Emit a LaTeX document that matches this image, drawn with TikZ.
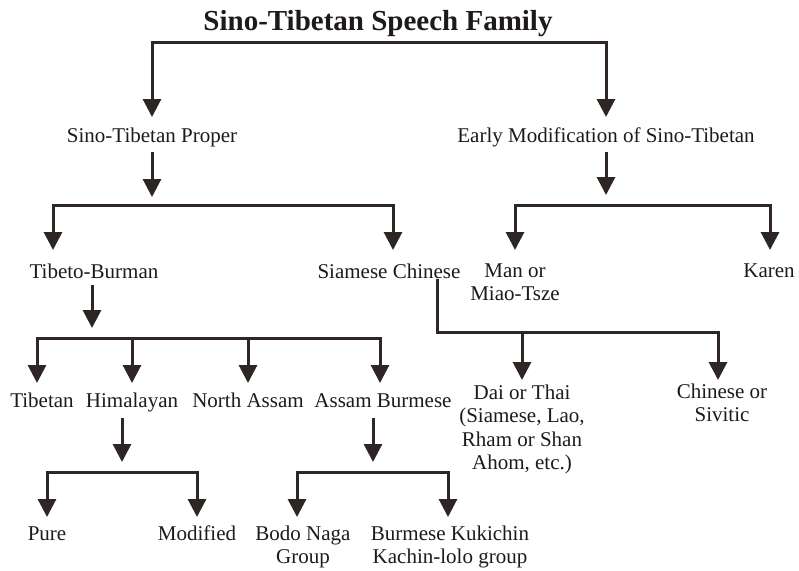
\documentclass[tikz,border=0pt]{standalone}
\usepackage{fontspec}
\setmainfont{Liberation Serif}
\usetikzlibrary{arrows.meta}
\definecolor{ink}{HTML}{2E2624}
\definecolor{txt}{HTML}{1E1A1A}
\begin{document}
\begin{tikzpicture}[x=1pt,y=-1pt,
  lab/.style={anchor=base,inner sep=0pt,text=txt,align=center,font=\fontsize{21}{23.5}\selectfont},
  ttl/.style={anchor=base,inner sep=0pt,text=txt,font=\fontsize{29}{33}\selectfont\bfseries},
  ln/.style={draw=ink,line width=3pt,line join=miter},
  arr/.style={ln,-{Triangle[width=18pt,length=18pt]}},
  arrtwo/.style={ln,{Triangle[width=18pt,length=18pt]}-{Triangle[width=18pt,length=18pt]}}]
\useasboundingbox[fill=white] (0,0) rectangle (799,570);
% nodes (multi-line nodes: base = baseline of last line)
\node[ttl] (title) at (378,30) {Sino-Tibetan Speech Family};
\node[lab] (stp) at (152,142) {Sino-Tibetan Proper};
\node[lab] (emo) at (606,142) {Early Modification of Sino-Tibetan};
\node[lab] (tb) at (94,278) {Tibeto-Burman};
\node[lab] (sc) at (389,278) {Siamese Chinese};
\node[lab] (man) at (515,300.5) {Man or\\Miao-Tsze};
\node[lab] (karen) at (769,277) {Karen};
\node[lab] (tib) at (42,407) {Tibetan};
\node[lab] (him) at (132,407) {Himalayan};
\node[lab] (na) at (248,407) {North Assam};
\node[lab] (ab) at (383,407) {Assam Burmese};
\node[lab] (dai) at (522,469.5) {Dai or Thai\\(Siamese, Lao,\\Rham or Shan\\Ahom, etc.)};
\node[lab] (chi) at (722,421.5) {Chinese or\\Sivitic};
\node[lab] (pure) at (47,540) {Pure};
\node[lab] (mod) at (197,540) {Modified};
\node[lab] (bodo) at (303,563.5) {Bodo Naga\\Group};
\node[lab] (bk) at (450,563.5) {Burmese Kukichin\\Kachin-lolo group};
% coordinates
\coordinate (t1L) at (152,117); \coordinate (c1L) at (152,42);
\coordinate (c1R) at (606,42);  \coordinate (t1R) at (606,117);
\coordinate (s1) at (152,197);
\coordinate (t2L) at (53,250); \coordinate (c2L) at (53,205);
\coordinate (c2R) at (393,205); \coordinate (t2R) at (393,250);
\coordinate (s2) at (606,195);
\coordinate (t3L) at (515,250); \coordinate (c3L) at (515,205);
\coordinate (c3R) at (770,205); \coordinate (t3R) at (770,250);
\coordinate (s3a) at (92,285); \coordinate (s3) at (92,328);
\coordinate (t4L) at (37,383); \coordinate (c4L) at (37,338);
\coordinate (c4R) at (380,338); \coordinate (t4R) at (380,383);
\coordinate (b4a) at (132,338); \coordinate (t4a) at (132,383);
\coordinate (b4b) at (248,338); \coordinate (t4b) at (248,383);
\coordinate (scs) at (437,279); \coordinate (scc) at (437,332);
\coordinate (scr) at (718,332); \coordinate (tsr) at (718,380);
\coordinate (scm) at (522,332); \coordinate (tsm) at (522,380);
\coordinate (s5a) at (122,418); \coordinate (s5) at (122,462);
\coordinate (t5L) at (47,517); \coordinate (c5L) at (47,472);
\coordinate (c5R) at (197,472); \coordinate (t5R) at (197,517);
\coordinate (s6a) at (373,418); \coordinate (s6) at (373,462);
\coordinate (t6L) at (297,517); \coordinate (c6L) at (297,472);
\coordinate (c6R) at (448,472); \coordinate (t6R) at (448,517);
% connectors
\draw[arrtwo] (t1L) -- (c1L) -- (c1R) -- (t1R);
\draw[arr,shorten <=5pt] (stp.south) -- (s1);
\draw[arrtwo] (t2L) -- (c2L) -- (c2R) -- (t2R);
\draw[arr,shorten <=5pt] (emo.south) -- (s2);
\draw[arrtwo] (t3L) -- (c3L) -- (c3R) -- (t3R);
\draw[arr] (s3a) -- (s3);
\draw[arrtwo] (t4L) -- (c4L) -- (c4R) -- (t4R);
\draw[arr] (b4a) -- (t4a);
\draw[arr] (b4b) -- (t4b);
\draw[arr] (scs) -- (scc) -- (scr) -- (tsr);
\draw[arr] (scm) -- (tsm);
\draw[arr] (s5a) -- (s5);
\draw[arrtwo] (t5L) -- (c5L) -- (c5R) -- (t5R);
\draw[arr] (s6a) -- (s6);
\draw[arrtwo] (t6L) -- (c6L) -- (c6R) -- (t6R);
\end{tikzpicture}
\end{document}
